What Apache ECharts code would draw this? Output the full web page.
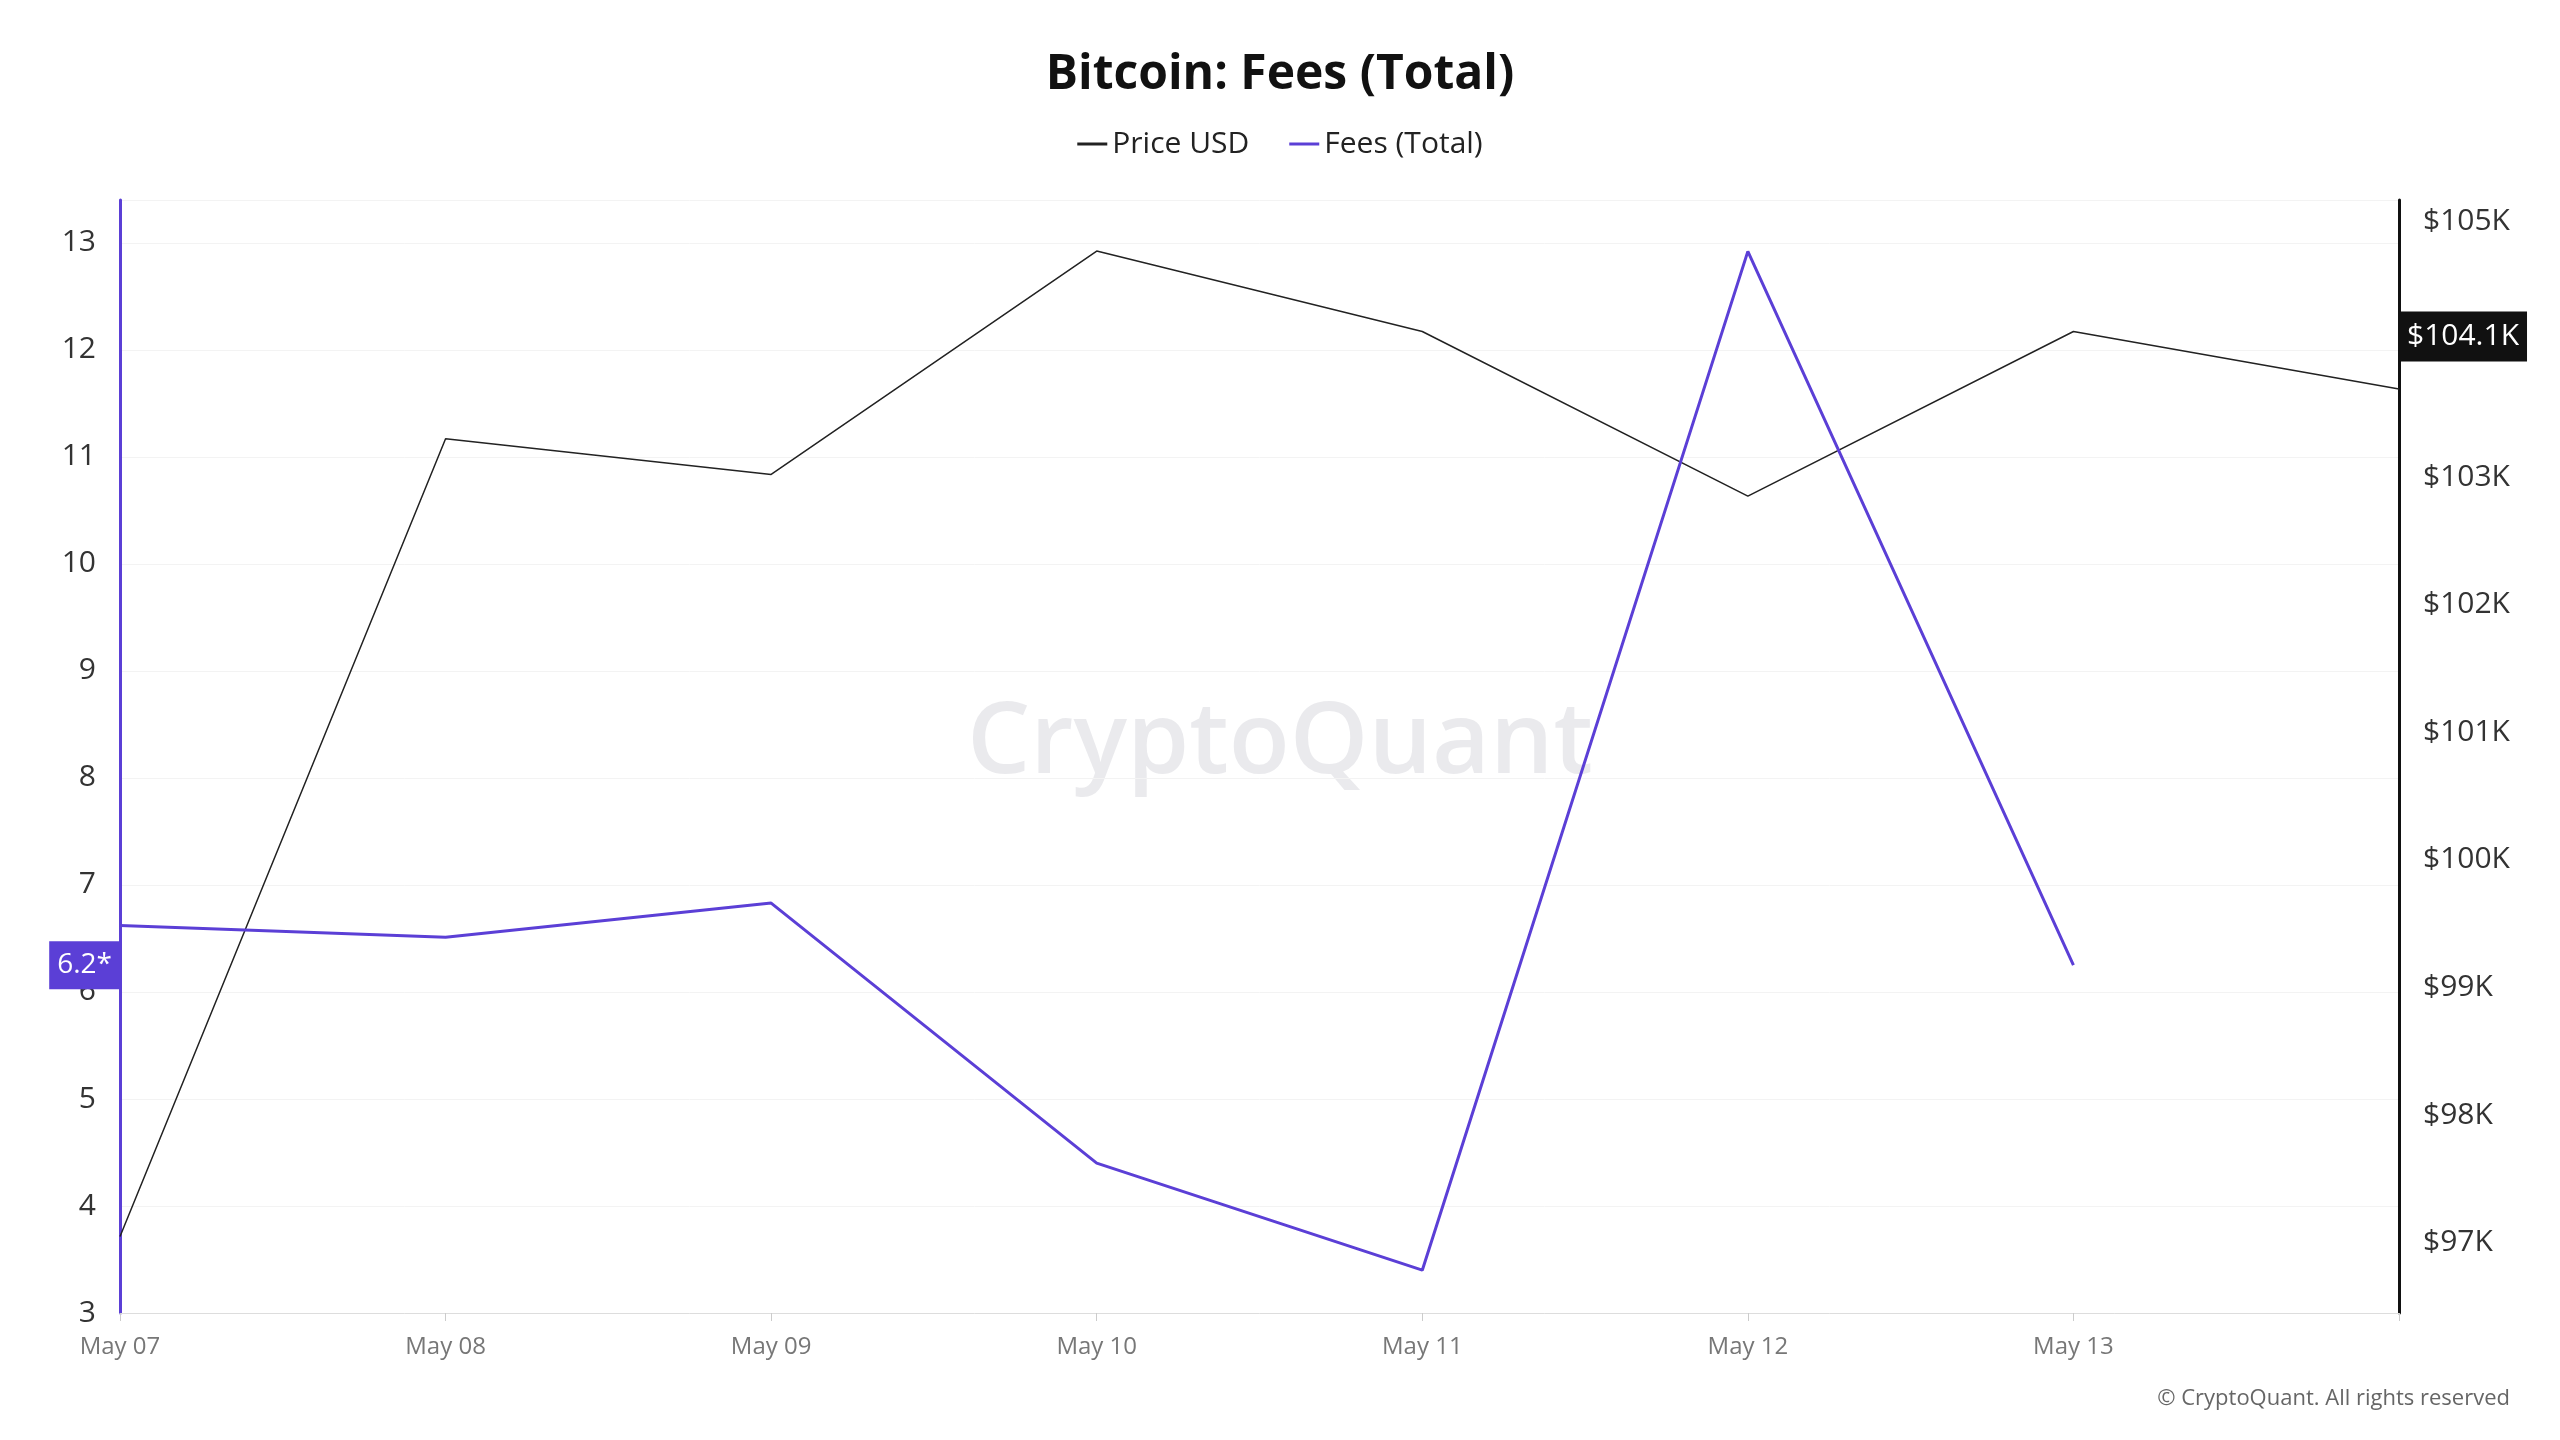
<!DOCTYPE html>
<html>
<head>
<meta charset="utf-8">
<script src="https://cdn.jsdelivr.net/npm/echarts@6/dist/echarts.min.js"></script>
<style>html,body{margin:0;padding:0;background:#fff}#main{width:2560px;height:1440px}</style>
</head>
<body>
<div id="main"></div>
<script>
var dates = ['May 07', 'May 08', 'May 09', 'May 10', 'May 11', 'May 12', 'May 13', 'May 14'];
var priceUsd = [97050, 103300, 103020, 104770, 104140, 102850, 104140, 103690];
var feesTotal = [6.62, 6.51, 6.83, 4.40, 3.40, 12.92, 6.25, null];
var priceTicks = [97000, 98000, 99000, 100000, 101000, 102000, 103000, 104000, 105000];

var chart = echarts.init(document.getElementById('main'));
var font = 'Open Sans';
var option = {
  textStyle: { fontFamily: font },
  title: {
    text: 'Bitcoin: Fees (Total)', left: 'center', top: 46,
    textStyle: { fontSize: 48, fontWeight: 'bold', color: '#111', fontFamily: font }
  },
  legend: {
    top: 124, itemWidth: 30, itemHeight: 3, itemGap: 40,
    textStyle: { fontSize: 30, color: '#222' },
    data: [
      { name: 'Price USD', icon: 'rect' },
      { name: 'Fees (Total)', icon: 'rect' }
    ]
  },
  grid: { left: 120, right: 161, top: 200, bottom: 127 },
  xAxis: {
    type: 'category', data: dates, boundaryGap: false,
    axisLine: { lineStyle: { color: '#ddd' } },
    axisTick: { show: true, length: 8, lineStyle: { color: '#ccc' } },
    axisLabel: {
      fontSize: 24, color: '#777', margin: 22,
      formatter: function (v, i) { return i === dates.length - 1 ? '' : v; }
    }
  },
  yAxis: [{
    type: 'value', min: 3, max: 13.4, interval: 1, position: 'left',
    axisLine: { show: true, lineStyle: { color: '#5b3fd6', width: 3 } },
    axisLabel: {
      fontSize: 30, color: '#333', margin: 24,
      formatter: function (v) { return Number.isInteger(v) ? v : ''; }
    },
    splitLine: { lineStyle: { color: '#f3f3f3' } },
    axisPointer: {
      show: true, value: 6.25, status: 'show', type: 'line',
      lineStyle: { opacity: 0 },
      label: {
        show: true, formatter: '6.2*', backgroundColor: '#5b3fd6', color: '#fff',
        fontSize: 28, padding: [10, 8], margin: 0, borderRadius: 0
      }
    }
  }, {
    type: 'value', min: 96450, max: 105170, position: 'right',
    axisLine: { show: true, lineStyle: { color: '#111', width: 3 } },
    axisTick: { show: false },
    axisLabel: {
      fontSize: 30, color: '#333', margin: 24, customValues: priceTicks,
      formatter: function (v) { return '$' + Math.round(v / 1000) + 'K'; }
    },
    splitLine: { show: false },
    axisPointer: {
      show: true, value: 104100, status: 'show', type: 'line',
      lineStyle: { opacity: 0 },
      label: {
        show: true, formatter: '$104.1K', backgroundColor: '#111', color: '#fff',
        fontSize: 30, padding: [10, 8], margin: 0, borderRadius: 0
      }
    }
  }],
  graphic: [{
    type: 'text', left: 'center', top: 695,
    style: { text: 'CryptoQuant', fontSize: 100, fontWeight: 600, fill: 'rgba(60,60,90,0.11)', fontFamily: font }
  }, {
    type: 'text', right: 50, top: 1388,
    style: { text: '© CryptoQuant. All rights reserved', fontSize: 22, fill: '#666', fontFamily: font }
  }],
  series: [{
    name: 'Price USD', type: 'line', yAxisIndex: 1, data: priceUsd,
    symbol: 'none', lineStyle: { color: '#222', width: 1.5 }, itemStyle: { color: '#222' }
  }, {
    name: 'Fees (Total)', type: 'line', yAxisIndex: 0, data: feesTotal,
    symbol: 'none', lineStyle: { color: '#5b3fd6', width: 3 }, itemStyle: { color: '#5b3fd6' }
  }]
};
option && chart.setOption(option);
</script>
</body>
</html>
